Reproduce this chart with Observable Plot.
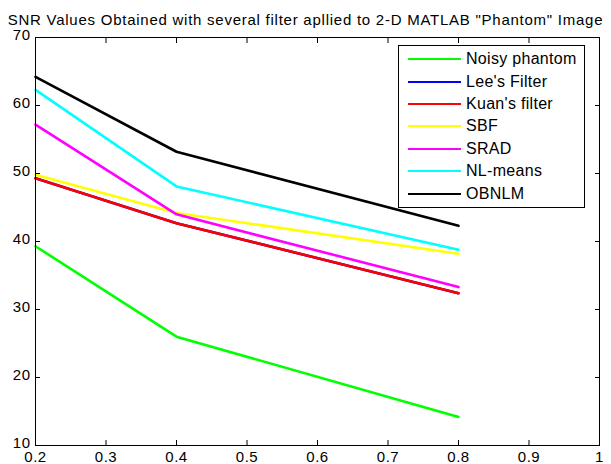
<!DOCTYPE html>
<html>
<head>
<meta charset="utf-8">
<script src="https://cdn.jsdelivr.net/npm/d3@7"></script>
<script src="https://cdn.jsdelivr.net/npm/@observablehq/plot@0.6"></script>
<style>
  html, body { margin: 0; padding: 0; background: #fff; }
  #wrap { position: relative; width: 611px; height: 464px; font-family: "Liberation Sans", Arial, sans-serif; }
  #title { position: absolute; left: 0; top: 11px; width: 611px; text-align: center; font-size: 15px; letter-spacing: 0.75px; color: #000; white-space: nowrap; }
  #legend { position: absolute; left: 398px; top: 45px; width: 185px; height: 159px; border: 1px solid #000; background: #fff; padding-top: 2px; box-sizing: content-box; }
  .row { display: flex; align-items: center; height: 22.4px; font-size: 16px; letter-spacing: 0.3px; color: #000; }
  .row svg { margin-left: 9px; margin-right: 5px; }
  #chart svg text { font-size: 15px; letter-spacing: 0.5px; }
</style>
</head>
<body>
<div id="wrap">
  <div id="chart"></div>
  <div id="title"></div>
  <div id="legend"></div>
</div>
<script>
const titleText = 'SNR Values Obtained with several filter apllied to 2-D MATLAB "Phantom" Image';
const xValues = [0.2, 0.4, 0.8];
const seriesNames = ["Noisy phantom", "Lee's Filter", "Kuan's filter", "SBF", "SRAD", "NL-means", "OBNLM"];
const seriesColors = ["#00ff00", "#0000ff", "#ff0000", "#ffff00", "#ff00ff", "#00ffff", "#000000"];
const noisyPhantom = [39.3, 26.0, 14.2];
const leesFilter = [49.3, 42.7, 32.4];
const kuansFilter = [49.3, 42.7, 32.4];
const sbf = [49.8, 44.2, 38.2];
const srad = [57.2, 44.0, 33.3];
const nlMeans = [62.3, 48.1, 38.8];
const obnlm = [64.2, 53.2, 42.3];
const xTicks = [0.2, 0.3, 0.4, 0.5, 0.6, 0.7, 0.8, 0.9, 1];
const yTicks = [10, 20, 30, 40, 50, 60, 70];

const allValues = [noisyPhantom, leesFilter, kuansFilter, sbf, srad, nlMeans, obnlm];
const data = [];
seriesNames.forEach((name, i) => {
  xValues.forEach((x, j) => data.push({series: name, x, y: allValues[i][j]}));
});

const fmt = d => d === 1 ? "1" : String(d);

const plot = Plot.plot({
  width: 611,
  height: 464,
  marginLeft: 35,
  marginRight: 12,
  marginTop: 37,
  marginBottom: 19,
  style: {fontFamily: "'Liberation Sans', Arial, sans-serif", fontSize: "15px", color: "#000", background: "#fff"},
  x: {domain: [0.2, 1], label: null},
  y: {domain: [10, 70], label: null},
  color: {domain: seriesNames, range: seriesColors},
  marks: [
    Plot.lineY(data, {x: "x", y: "y", z: "series", stroke: "series", strokeWidth: 2.6}),
    Plot.frame({stroke: "#000", strokeWidth: 1}),
    Plot.axisX(xTicks, {anchor: "bottom", tickSize: 0, tickPadding: 6, tickFormat: fmt, label: null, fontSize: 15}),
    Plot.axisX(xTicks, {anchor: "bottom", text: null, tickSize: -5, label: null}),
    Plot.axisX(xTicks, {anchor: "top", text: null, tickSize: -5, label: null}),
    Plot.axisY(yTicks, {anchor: "left", tickSize: 0, tickPadding: 5, label: null, fontSize: 15, dy: -2}),
    Plot.axisY(yTicks, {anchor: "left", text: null, tickSize: -5, label: null}),
    Plot.axisY(yTicks, {anchor: "right", text: null, tickSize: -5, label: null})
  ]
});
document.getElementById("chart").appendChild(plot);
document.getElementById("title").textContent = titleText;

const legend = document.getElementById("legend");
seriesNames.forEach((name, i) => {
  const row = document.createElement("div");
  row.className = "row";
  row.innerHTML = `<svg width="53" height="6"><line x1="0" y1="3" x2="53" y2="3" stroke="${seriesColors[i]}" stroke-width="2"/></svg><span></span>`;
  row.querySelector("span").textContent = name;
  legend.appendChild(row);
});
</script>
</body>
</html>
